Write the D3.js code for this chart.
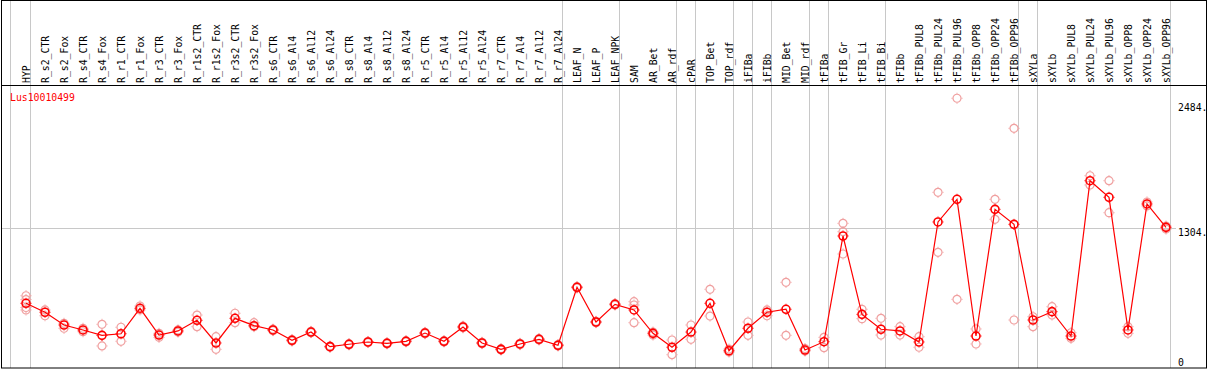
<!DOCTYPE html>
<html>
<head>
<meta charset="utf-8">
<script src="https://cdn.jsdelivr.net/npm/d3@7"></script>
<style>
  body { margin: 0; background: #fff; }
  svg { display: block; }
  text { font-family: "DejaVu Sans Mono", monospace; font-size: 9.8px; }
</style>
</head>
<body>
<div id="chart"></div>
<script>
const geneName = 'Lus10010499'

const samples = ['HYP', 'R_s2_CTR', 'R_s2_Fox', 'R_s4_CTR', 'R_s4_Fox', 'R_r1_CTR', 'R_r1_Fox',
  'R_r3_CTR', 'R_r3_Fox', 'R_r1s2_CTR', 'R_r1s2_Fox', 'R_r3s2_CTR', 'R_r3s2_Fox',
  'R_s6_CTR', 'R_s6_Al4', 'R_s6_Al12', 'R_s6_Al24', 'R_s8_CTR', 'R_s8_Al4', 'R_s8_Al12', 'R_s8_Al24',
  'R_r5_CTR', 'R_r5_Al4', 'R_r5_Al12', 'R_r5_Al24', 'R_r7_CTR', 'R_r7_Al4', 'R_r7_Al12', 'R_r7_Al24',
  'LEAF_N', 'LEAF_P', 'LEAF_NPK', 'SAM', 'AR_Bet', 'AR_rdf', 'cPAR', 'TOP_Bet', 'TOP_rdf',
  'iFIBa', 'iFIBb', 'MID_Bet', 'MID_rdf', 'tFIBa', 'tFIB_Gr', 'tFIB_Li', 'tFIB_Bi', 'tFIBb',
  'tFIBb_PUL8', 'tFIBb_PUL24', 'tFIBb_PUL96', 'tFIBb_OPP8', 'tFIBb_OPP24', 'tFIBb_OPP96',
  'sXYLa', 'sXYLb', 'sXYLb_PUL8', 'sXYLb_PUL24', 'sXYLb_PUL96', 'sXYLb_OPP8', 'sXYLb_OPP24', 'sXYLb_OPP96']

const means = [550, 460, 332, 282, 228, 244, 500, 231, 272, 379, 151, 399, 325,
  282, 178, 261, 114, 138, 161, 148, 168, 251, 168, 312, 151, 87, 141, 188, 128,
  711, 362, 540, 483, 248, 108, 261, 550, 73, 299, 460, 490, 80, 164,
  1227, 439, 289, 272, 161, 1368, 1596, 221, 1495, 1344,
  382, 466, 221, 1783, 1616, 282, 1549, 1314]

// replicate values per sample
const replicates = [
  [626, 588, 508, 483], [483, 425], [349, 299], [299, 264], [339, 121], [309, 168], [523, 483],
  [248, 208], [282, 261], [432, 315], [214, 87], [450, 355], [355, 315],
  [290, 275], [185, 170], [268, 255], [120, 108], [144, 132], [166, 155], [154, 142], [174, 162],
  [258, 244], [174, 162], [320, 304], [158, 144], [94, 80], [148, 134], [195, 181], [135, 121],
  [718, 704], [369, 355], [548, 532], [566, 533, 355], [261, 231], [181, 33], [332, 188], [691, 422], [90, 60],
  [362, 228], [483, 425], [761, 228], [95, 70], [208, 104],
  [1354, 1270, 1046], [490, 395], [399, 231], [315, 231], [214, 108], [1666, 1063], [2612, 590], [292, 141],
  [1596, 1395], [2310, 382], [415, 315], [516, 432], [254, 198], [1833, 1740], [1783, 1461], [315, 248],
  [1569, 1529], [1327, 1297]]

// sample index after which a separator line is drawn
const groupEnds = [0, 28, 31, 34, 35, 37, 38, 39, 41, 42, 45, 52, 53, 60]

const tickValues = [0, 1304, 2484]

const width = 1209
const height = 370
const headerH = 85
const bottom = 368

const svg = d3.select('#chart')
  .append('svg')
  .attr('width', width)
  .attr('height', height)

const x = d3.scaleLinear()
  .domain([0, samples.length - 1])
  .range([26, 1166])

const y = d3.scaleLinear()
  .domain([0, 2484])
  .range([358, 111])

// separators
svg.append('line')
  .attr('x1', 10.5).attr('x2', 10.5)
  .attr('y1', 0).attr('y2', bottom)
  .attr('stroke', '#c8c8c8')

svg.selectAll('.sep')
  .data(groupEnds)
  .enter()
  .append('line')
  .attr('class', 'sep')
  .attr('x1', d => Math.round(x(d) + 4) + 0.5)
  .attr('x2', d => Math.round(x(d) + 4) + 0.5)
  .attr('y1', 0)
  .attr('y2', bottom)
  .attr('stroke', '#c8c8c8')

// reference line
svg.append('line')
  .attr('x1', 1).attr('x2', 1176)
  .attr('y1', Math.round(y(1304)) + 0.5)
  .attr('y2', Math.round(y(1304)) + 0.5)
  .attr('stroke', '#c8c8c8')

// frame
svg.append('rect')
  .attr('x', 1.5).attr('y', 0.5)
  .attr('width', 1205).attr('height', bottom - 0.5)
  .attr('fill', 'none')
  .attr('stroke', '#000')
svg.append('line')
  .attr('x1', 1).attr('x2', 1207)
  .attr('y1', headerH + 0.5).attr('y2', headerH + 0.5)
  .attr('stroke', '#000')

// sample labels
svg.selectAll('.lab')
  .data(samples)
  .enter()
  .append('text')
  .attr('class', 'lab')
  .attr('transform', (d, i) => `translate(${x(i) + 3.5}, ${headerH - 2}) rotate(-90)`)
  .text(d => d)

// right axis labels
svg.selectAll('.tick')
  .data(tickValues)
  .enter()
  .append('text')
  .attr('class', 'tick')
  .attr('x', 1178)
  .attr('y', d => d === 2484 ? y(d) : y(d) + 8)
  .text(d => d === 0 ? '0' : d + '.')

svg.append('text')
  .attr('x', 10)
  .attr('y', 101)
  .attr('fill', '#ff0000')
  .text(geneName)

const marker = (g, color, sw) => {
  g.append('circle')
    .attr('r', 4)
    .attr('fill', 'none')
    .attr('stroke', color)
    .attr('stroke-width', sw)
  g.append('path')
    .attr('d', 'M0,-5.5V-4.5M0,4.5V5.5M-5.5,0H-4.5M4.5,0H5.5')
    .attr('stroke', color)
    .attr('stroke-width', 1)
}

// replicates
const reps = []
replicates.forEach((r, i) => r.forEach(v => reps.push({ i, v })))
svg.selectAll('.rep')
  .data(reps)
  .enter()
  .append('g')
  .attr('class', 'rep')
  .attr('transform', d => `translate(${x(d.i)}, ${y(d.v)})`)
  .each(function () { marker(d3.select(this), '#f0a0a0', 1.2) })

// mean line
const line = d3.line()
  .x((d, i) => x(i))
  .y(d => y(d))

svg.append('path')
  .datum(means)
  .attr('d', line)
  .attr('fill', 'none')
  .attr('stroke', '#ff0000')
  .attr('stroke-width', 1.2)

svg.selectAll('.mean')
  .data(means)
  .enter()
  .append('g')
  .attr('class', 'mean')
  .attr('transform', (d, i) => `translate(${x(i)}, ${y(d)})`)
  .each(function () { marker(d3.select(this), '#ff0000', 1.6) })
</script>
</body>
</html>
